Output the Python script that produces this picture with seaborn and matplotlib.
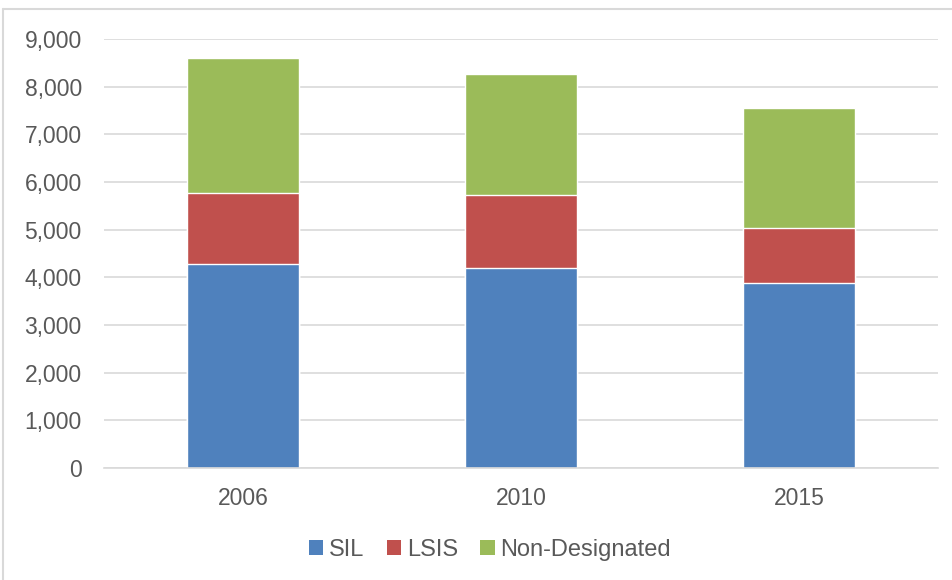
import numpy as np
import pandas as pd
import seaborn as sns
import matplotlib.pyplot as plt
from matplotlib.patches import Patch
from matplotlib.lines import Line2D

# valores
years = ['2006', '2010', '2015']
sil = [4280, 4190, 3890]
lsis = [1480, 1545, 1150]
non_designated = [2840, 2535, 2505]

df = pd.DataFrame({'year': years, 'SIL': sil, 'LSIS': lsis, 'Non-Designated': non_designated})
df['top_lsis'] = df['SIL'] + df['LSIS']
df['top_all'] = df['top_lsis'] + df['Non-Designated']

colors = {'SIL': '#4F81BD', 'LSIS': '#C0504D', 'Non-Designated': '#9BBB59'}

sns.set_style('white')
plt.rcParams['font.family'] = ['Liberation Sans', 'DejaVu Sans']

fig = plt.figure(figsize=(9.52, 5.8), dpi=100)
ax = fig.add_axes([104 / 952, 112 / 580, 834 / 952, 429 / 580])

# barras empilhadas desenhadas de cima para baixo
sns.barplot(data=df, x='year', y='top_all', color=colors['Non-Designated'], width=0.4,
            saturation=1, ax=ax, zorder=2)
sns.barplot(data=df, x='year', y='top_lsis', color=colors['LSIS'], width=0.4,
            saturation=1, ax=ax, zorder=2)
sns.barplot(data=df, x='year', y='SIL', color=colors['SIL'], width=0.4,
            saturation=1, ax=ax, zorder=2)

ax.set_ylim(0, 9000)
ax.set_xlim(-0.5, 2.5)
ax.set_yticks(np.arange(0, 9001, 1000))
ax.set_yticklabels([f'{v:,}' for v in range(0, 9001, 1000)])
ax.yaxis.grid(True, color='#D9D9D9', linewidth=1.2, zorder=0)
ax.set_axisbelow(True)
for s in ['top', 'right', 'left']:
    ax.spines[s].set_visible(False)
ax.spines['bottom'].set_color('#D9D9D9')
ax.spines['bottom'].set_linewidth(1.2)
ax.tick_params(axis='both', length=0, labelsize=16.5, colors='#595959')
ax.tick_params(axis='y', pad=16)
ax.tick_params(axis='x', pad=14)
ax.set_xlabel('')
ax.set_ylabel('')

handles = [Patch(facecolor=colors[k], edgecolor='none') for k in ['SIL', 'LSIS', 'Non-Designated']]
fig.legend(handles, ['SIL', 'LSIS', 'Non-Designated'], loc='center', bbox_to_anchor=(490 / 952, 1 - 550 / 580),
           ncol=3, frameon=False, fontsize=17, handlelength=0.6, handleheight=0.6,
           handletextpad=0.25, columnspacing=0.95, labelcolor='#595959')

# moldura do grafico
fig.add_artist(Line2D([3 / 952, 3 / 952], [0, 1 - 9 / 580], color='#D9D9D9', linewidth=1.5))
fig.add_artist(Line2D([3 / 952, 1], [1 - 9 / 580, 1 - 9 / 580], color='#D9D9D9', linewidth=1.5))

fig.savefig('out.png', dpi=100)
